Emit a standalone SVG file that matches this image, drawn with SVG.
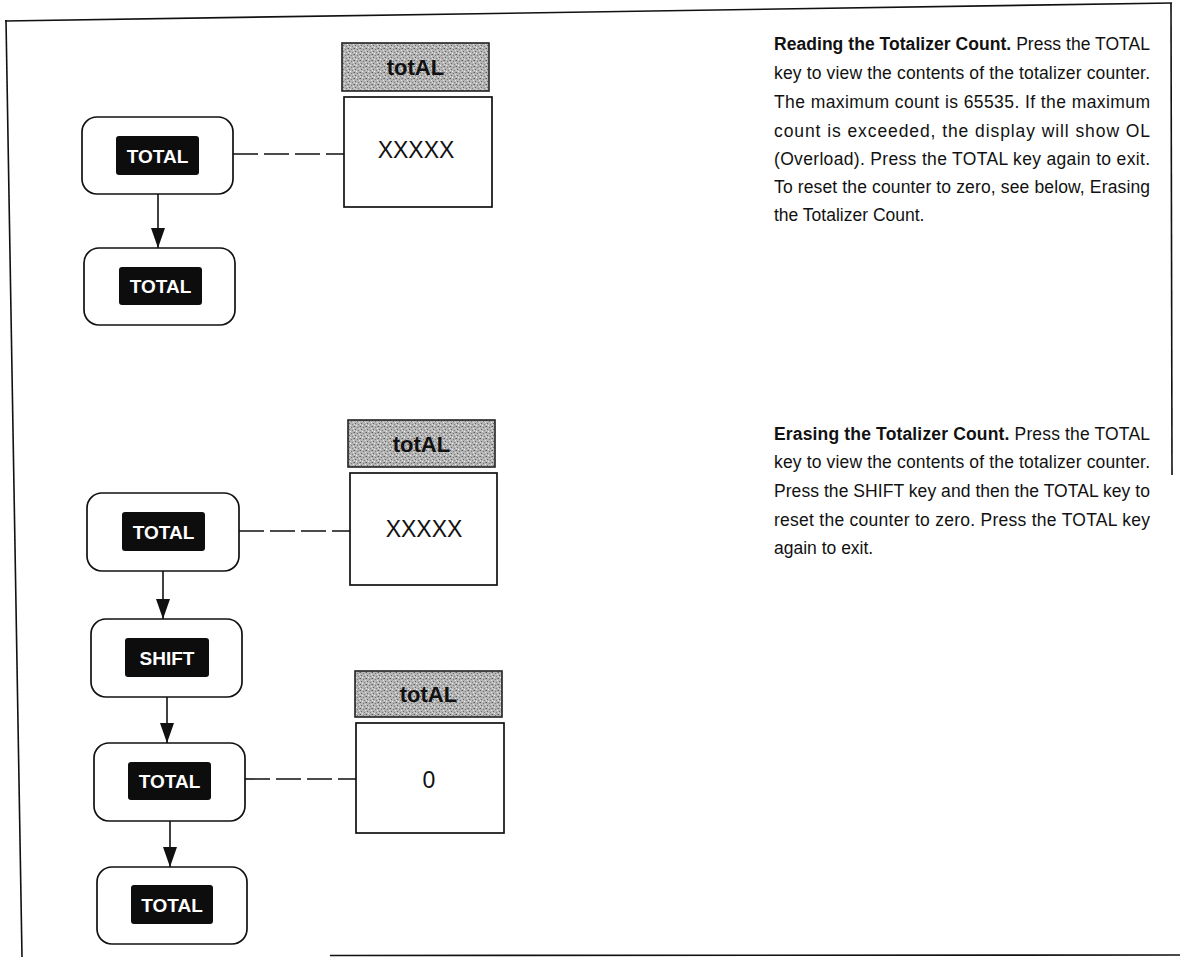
<svg xmlns="http://www.w3.org/2000/svg" width="1180" height="957" viewBox="0 0 1180 957">
<style>
.frame{fill:none;stroke:#111;stroke-width:1.6}
.box{fill:#fff;stroke:#111;stroke-width:1.7}
.key{fill:#0d0d0d}
.keytxt{font-family:"Liberation Sans",Arial,sans-serif;font-weight:bold;font-size:19px;fill:#fff;text-anchor:middle}
.hdr{fill:url(#stip);stroke:#222;stroke-width:1.6}
.hdrtxt{font-family:"Liberation Sans",Arial,sans-serif;font-weight:bold;font-size:22px;fill:#111;text-anchor:middle}
.val{font-family:"Liberation Sans",Arial,sans-serif;font-size:23px;fill:#111;text-anchor:middle}
.para{font-family:"Liberation Sans",Arial,sans-serif;font-size:17.5px;fill:#111}
.flow{stroke:#111;stroke-width:1.6;fill:none;marker-end:url(#arr)}
.dash{stroke:#111;stroke-width:1.6;fill:none;stroke-dasharray:25 6}
</style>
<defs>
<pattern id="stip" width="6" height="6" patternUnits="userSpaceOnUse">
<rect width="6" height="6" fill="#b4b4b4"/>
<rect x="0" y="0" width="1" height="1" fill="#5e5e5e"/>
<rect x="3" y="1" width="1" height="1" fill="#7a7a7a"/>
<rect x="1" y="3" width="1" height="1" fill="#666"/>
<rect x="4" y="4" width="1" height="1" fill="#808080"/>
<rect x="5" y="0" width="1" height="1" fill="#8a8a8a"/>
<rect x="2" y="5" width="1" height="1" fill="#f0f0f0"/>
<rect x="5" y="2" width="1" height="1" fill="#e8e8e8"/>
<rect x="0" y="4" width="1" height="1" fill="#dcdcdc"/>
</pattern>
<marker id="arr" viewBox="0 0 20 14" refX="20" refY="7" markerWidth="20" markerHeight="14" markerUnits="userSpaceOnUse" orient="auto">
<path d="M0,0 L20,7 L0,14 z" fill="#111"/>
</marker>
</defs>

<g id="frame">
<path class="frame" d="M5,21 L1172,3"/>
<path class="frame" d="M6,20 L22,957"/>
<path class="frame" d="M1171,3 L1172,475"/>
<path class="frame" d="M330,955.5 L1180,955"/>
</g>

<g id="connectors">
<line class="flow" x1="158" y1="194" x2="158" y2="248"/>
<line class="flow" x1="163" y1="571" x2="163" y2="619"/>
<line class="flow" x1="167" y1="697" x2="167" y2="743"/>
<line class="flow" x1="170" y1="821" x2="170" y2="867"/>
<line class="dash" x1="233" y1="154" x2="344" y2="154"/>
<line class="dash" x1="239" y1="531" x2="350" y2="531"/>
<line class="dash" x1="245" y1="779" x2="356" y2="779"/>
</g>

<g id="n1">
<rect class="box" x="82" y="117" width="151" height="77" rx="15"/>
<rect class="key" x="116" y="136" width="83" height="39" rx="3"/>
<text class="keytxt" x="157.5" y="162.5">TOTAL</text>
</g>
<g id="n2">
<rect class="box" x="84" y="248" width="151" height="77" rx="15"/>
<rect class="key" x="119" y="267" width="83" height="38" rx="3"/>
<text class="keytxt" x="160.5" y="293">TOTAL</text>
</g>
<g id="n3">
<rect class="box" x="87" y="493" width="152" height="78" rx="15"/>
<rect class="key" x="122" y="512" width="83" height="39" rx="3"/>
<text class="keytxt" x="163.5" y="538.5">TOTAL</text>
</g>
<g id="n4">
<rect class="box" x="91" y="619" width="151" height="78" rx="15"/>
<rect class="key" x="125" y="638" width="84" height="39" rx="3"/>
<text class="keytxt" x="167" y="664.5">SHIFT</text>
</g>
<g id="n5">
<rect class="box" x="94" y="743" width="151" height="78" rx="15"/>
<rect class="key" x="128" y="762" width="83" height="38" rx="3"/>
<text class="keytxt" x="169.5" y="788">TOTAL</text>
</g>
<g id="n6">
<rect class="box" x="97" y="867" width="150" height="77" rx="15"/>
<rect class="key" x="131" y="885" width="82" height="39" rx="3"/>
<text class="keytxt" x="172" y="911.5">TOTAL</text>
</g>

<g id="d1">
<rect class="hdr" x="342" y="43" width="147" height="48"/>
<text class="hdrtxt" x="415.5" y="75">totAL</text>
<rect class="box" x="344" y="97" width="148" height="110"/>
<text class="val" x="416" y="158">XXXXX</text>
</g>
<g id="d2">
<rect class="hdr" x="348" y="420" width="147" height="47"/>
<text class="hdrtxt" x="421.5" y="451.5">totAL</text>
<rect class="box" x="350" y="473" width="147" height="112"/>
<text class="val" x="424" y="536.5">XXXXX</text>
</g>
<g id="d3">
<rect class="hdr" x="355" y="671" width="147" height="46"/>
<text class="hdrtxt" x="428.5" y="702">totAL</text>
<rect class="box" x="356" y="723" width="148" height="110"/>
<text class="val" x="429" y="788">0</text>
</g>

<g id="text1" class="para">
<text x="774" y="50" textLength="376" lengthAdjust="spacing"><tspan font-weight="bold">Reading the Totalizer Count.</tspan>  Press the TOTAL</text>
<text x="774" y="79" textLength="376" lengthAdjust="spacing">key to view the contents of the totalizer counter.</text>
<text x="774" y="108" textLength="376" lengthAdjust="spacing">The maximum count is 65535.  If the maximum</text>
<text x="774" y="137" textLength="376" lengthAdjust="spacing">count is exceeded, the display will show OL</text>
<text x="774" y="165" textLength="376" lengthAdjust="spacing">(Overload).  Press the TOTAL key again to exit.</text>
<text x="774" y="193" textLength="376" lengthAdjust="spacing">To reset the counter to zero, see below,  Erasing</text>
<text x="774" y="221">the Totalizer Count.</text>
</g>
<g id="text2" class="para">
<text x="774" y="440" textLength="376" lengthAdjust="spacing"><tspan font-weight="bold">Erasing the Totalizer Count.</tspan>  Press the TOTAL</text>
<text x="774" y="468" textLength="376" lengthAdjust="spacing">key to view the contents of the totalizer counter.</text>
<text x="774" y="497" textLength="376" lengthAdjust="spacing">Press the SHIFT key and then the TOTAL key to</text>
<text x="774" y="526" textLength="376" lengthAdjust="spacing">reset the counter to zero.  Press the TOTAL key</text>
<text x="774" y="554">again to exit.</text>
</g>
</svg>
